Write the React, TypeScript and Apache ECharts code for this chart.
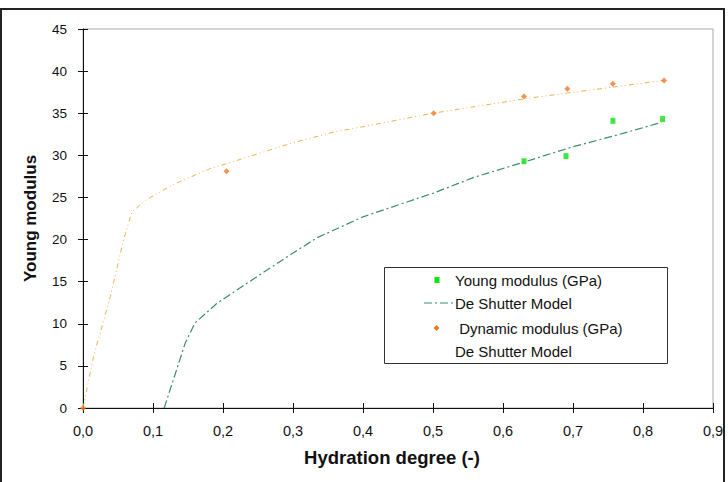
import React, { useEffect, useRef } from "react";
import * as echarts from "echarts";

// Measured static Young modulus (GPa) vs hydration degree
const youngX = [0.63, 0.69, 0.757, 0.828];
const youngE = [29.3, 29.9, 34.1, 34.3];

// Measured dynamic modulus (GPa) vs hydration degree
const dynamicX = [0, 0.205, 0.501, 0.63, 0.692, 0.757, 0.83];
const dynamicE = [0, 28.1, 35.0, 37.0, 37.9, 38.5, 38.9];

// De Shutter model curve for the static modulus
const modelStaticX = [0.116, 0.146, 0.16, 0.191, 0.234, 0.3, 0.334, 0.4, 0.5, 0.559, 0.63, 0.699, 0.758, 0.826];
const modelStaticE = [0, 7.7, 10.1, 12.4, 14.8, 18.4, 20.2, 22.7, 25.5, 27.4, 29.2, 31.0, 32.3, 33.9];

// De Shutter model curve for the dynamic modulus
const modelDynX = [0, 0.015, 0.039, 0.058, 0.07, 0.09, 0.128, 0.181, 0.205, 0.3, 0.36, 0.4, 0.5, 0.63, 0.692, 0.757, 0.83];
const modelDynE = [0, 6.1, 13.2, 20.0, 23.3, 24.7, 26.5, 28.4, 29.0, 31.5, 32.8, 33.4, 35.0, 36.7, 37.4, 38.1, 38.9];

// Legend labels
const legendLabels = ["Young modulus (GPa)", "De Shutter Model", " Dynamic modulus (GPa)", "De Shutter Model"];

const FONT = "'Liberation Sans', Arial, sans-serif";
const GREEN_MARK = "#11e011";
const GREEN_LINE = "#3d8c6c";
const ORANGE_MARK = "#f07a22";
const ORANGE_LINE = "#f4b04a";

const zip = (xs: number[], ys: number[]) => xs.map((x, i) => [x, ys[i]]);
const comma = (v: number) => v.toFixed(1).replace(".", ",");

export default function App() {
  const ref = useRef<HTMLDivElement>(null);

  useEffect(() => {
    if (!ref.current) return;
    const chart = echarts.init(ref.current, null, { renderer: "svg" });

    const xBase = {
      type: "value",
      min: 0,
      max: 0.9,
      interval: 0.1,
      splitLine: { show: false },
    };
    const yBase = {
      type: "value",
      min: 0,
      max: 45,
      interval: 5,
      splitLine: { show: false },
    };

    // legend box drawn as graphic elements
    const lx = 384.5;
    const ly = 267.5;
    const rowY = [280, 303, 328, 351];
    const textX = 455;
    const legendGraphics: any[] = [
      {
        type: "rect",
        shape: { x: lx, y: ly, width: 283, height: 96 },
        style: { fill: "#fff", stroke: "#333", lineWidth: 1 },
        z: 10,
      },
      {
        type: "rect",
        shape: { x: 434.5, y: rowY[0] - 3, width: 5, height: 6 },
        style: { fill: GREEN_MARK },
        z: 11,
      },
      {
        type: "line",
        shape: { x1: 424, y1: rowY[1], x2: 453, y2: rowY[1] },
        style: { stroke: GREEN_LINE, lineWidth: 1.2, lineDash: [8, 3, 2, 3] },
        z: 11,
      },
      {
        type: "polygon",
        shape: {
          points: [
            [436.5, rowY[2] - 3],
            [439.5, rowY[2]],
            [436.5, rowY[2] + 3],
            [433.5, rowY[2]],
          ],
        },
        style: { fill: ORANGE_MARK },
        z: 11,
      },
      ...legendLabels.map((t, i) => ({
        type: "text",
        x: textX,
        y: rowY[i],
        style: {
          text: t,
          fill: "#111",
          font: `15px ${FONT}`,
          verticalAlign: "middle",
          align: "left",
        },
        z: 11,
      })),
    ];

    chart.setOption({
      animation: false,
      backgroundColor: "#fff",
      grid: {
        left: 83,
        right: 15,
        top: 29,
        bottom: 74,
        show: true,
        borderColor: "#a8a8a8",
        borderWidth: 1,
      },
      xAxis: [
        {
          ...xBase,
          position: "bottom",
          name: "Hydration degree (-)",
          nameLocation: "middle",
          nameGap: 40,
          nameTextStyle: {
            fontFamily: FONT,
            fontWeight: "bold",
            fontSize: 18.5,
            color: "#111",
            padding: [0, 12, 0, 0],
          },
          axisLine: { onZero: false, lineStyle: { color: "#111", width: 1 } },
          axisTick: { inside: false, length: 5, lineStyle: { color: "#111" } },
          axisLabel: {
            margin: 15,
            fontFamily: FONT,
            fontSize: 14.5,
            color: "#111",
            formatter: comma,
          },
        },
        {
          ...xBase,
          position: "bottom",
          axisLine: { show: false },
          axisTick: { inside: true, length: 5, lineStyle: { color: "#111" } },
          axisLabel: { show: false },
        },
      ],
      yAxis: [
        {
          ...yBase,
          position: "left",
          name: "Young modulus",
          nameLocation: "middle",
          nameGap: 44,
          nameTextStyle: {
            fontFamily: FONT,
            fontWeight: "bold",
            fontSize: 17,
            color: "#111",
          },
          axisLine: { onZero: false, lineStyle: { color: "#111", width: 1 } },
          axisTick: { inside: false, length: 5, lineStyle: { color: "#111" } },
          axisLabel: {
            margin: 16,
            fontFamily: FONT,
            fontSize: 13.5,
            color: "#111",
          },
        },
        {
          ...yBase,
          position: "left",
          axisLine: { show: false },
          axisTick: { inside: true, length: 5, lineStyle: { color: "#111" } },
          axisLabel: { show: false },
        },
      ],
      series: [
        {
          name: "De Shutter Model (dynamic)",
          type: "line",
          data: zip(modelDynX, modelDynE),
          showSymbol: false,
          symbol: "none",
          lineStyle: { color: ORANGE_LINE, width: 1, type: [5, 3, 1, 3, 1, 3] },
          z: 2,
        },
        {
          name: "De Shutter Model",
          type: "line",
          data: zip(modelStaticX, modelStaticE),
          showSymbol: false,
          symbol: "none",
          lineStyle: { color: GREEN_LINE, width: 1.2, type: [8, 3, 2, 3] },
          z: 2,
        },
        {
          name: "Young modulus (GPa)",
          type: "scatter",
          data: zip(youngX, youngE),
          symbol: "rect",
          symbolSize: [5, 6],
          itemStyle: { color: GREEN_MARK },
          z: 3,
        },
        {
          name: "Dynamic modulus (GPa)",
          type: "scatter",
          data: zip(dynamicX, dynamicE),
          symbol: "diamond",
          symbolSize: 6,
          itemStyle: { color: ORANGE_MARK },
          z: 3,
        },
      ],
      graphic: [
        {
          type: "rect",
          shape: { x: 1, y: 9, width: 723, height: 480 },
          style: { fill: "none", stroke: "#222", lineWidth: 2 },
          silent: true,
          z: 20,
        },
        ...legendGraphics,
      ],
    });

    return () => chart.dispose();
  }, []);

  return (
    <div
      ref={ref}
      style={{ position: "absolute", left: 0, top: 0, width: 728, height: 482, background: "#fff" }}
    />
  );
}
